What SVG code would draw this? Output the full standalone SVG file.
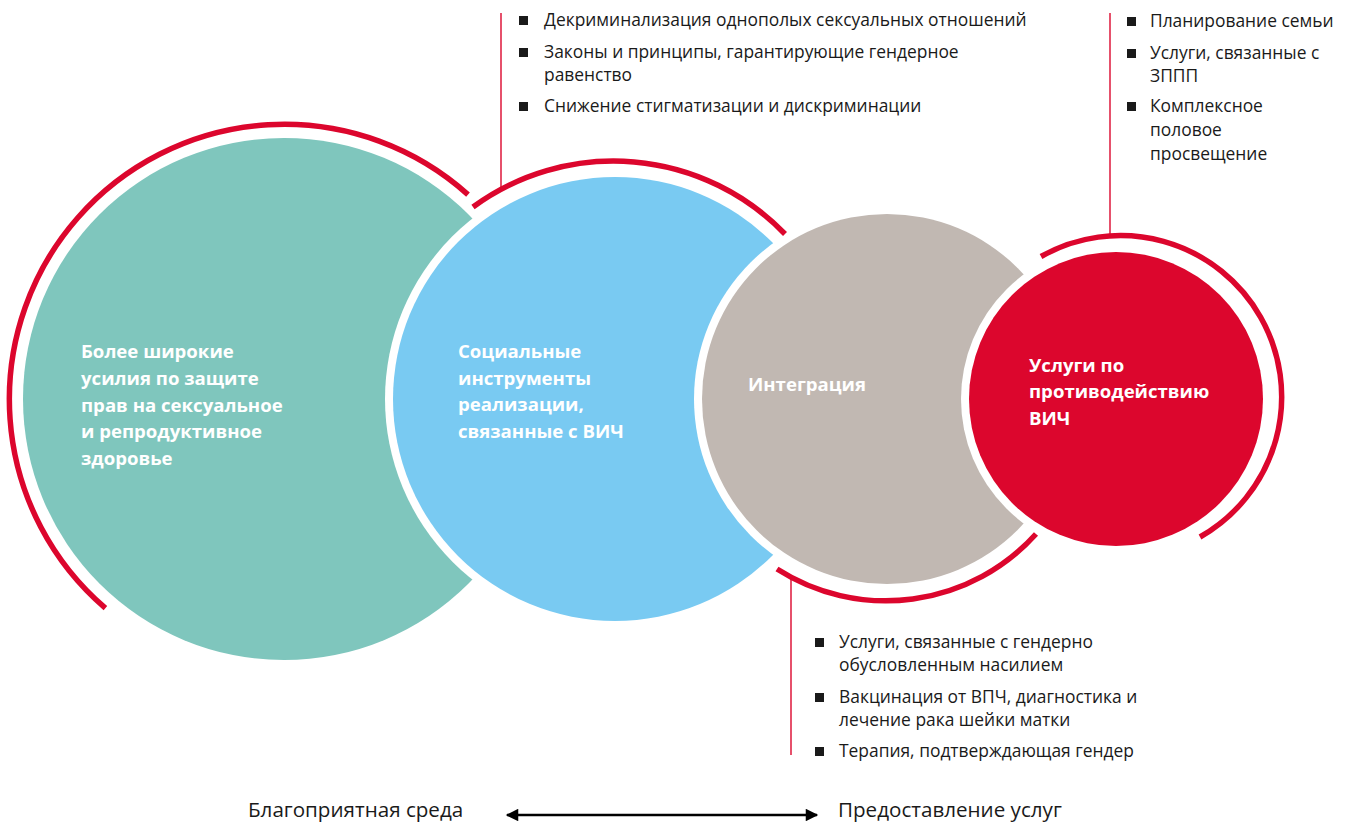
<svg xmlns="http://www.w3.org/2000/svg" width="1349" height="823" viewBox="0 0 1349 823">
  <defs>
    <style>
      .bg { fill: #ffffff; }
      .ring { fill: #ffffff; }
      .arc { fill: none; stroke: #dc062d; stroke-width: 5.5; }
      .lead { stroke: #dc062d; stroke-width: 1.4; }
      .node-label { font-family: "Open Sans", "Noto Sans", "Liberation Sans", sans-serif; font-weight: 700; font-size: 18.6px; fill: #ffffff; }
      .item { font-family: "Open Sans", "Noto Sans", "Liberation Sans", sans-serif; font-size: 17.4px; fill: #1a1a1a; }
      .bullet { fill: #1a1a1a; }
      .axis-label { font-family: "Open Sans", "Noto Sans", "Liberation Sans", sans-serif; font-size: 20.6px; fill: #1a1a1a; }
      .axis { stroke: #000000; stroke-width: 2.5; }
    </style>
    <marker id="head" viewBox="0 0 10 10" refX="9" refY="5" markerWidth="5.8" markerHeight="5" orient="auto-start-reverse" markerUnits="strokeWidth">
      <path d="M0,0 L10,5 L0,10 Z" fill="#000000"/>
    </marker>
  </defs>

  <rect class="bg" x="0" y="0" width="1349" height="823"/>

  <!-- Enabling environment: broader SRHR efforts -->
  <g id="node-srhr">
    <circle cx="284" cy="399" r="261" fill="#7fc6bd"/>
    <text class="node-label" x="81" y="358">Более широкие</text>
    <text class="node-label" x="81" y="385">усилия по защите</text>
    <text class="node-label" x="81" y="412">прав на сексуальное</text>
    <text class="node-label" x="81" y="438">и репродуктивное</text>
    <text class="node-label" x="81" y="465">здоровье</text>
  </g>

  <!-- Social enablers -->
  <g id="node-social">
    <circle class="ring" cx="615" cy="399" r="230"/>
    <circle cx="615" cy="399" r="222" fill="#79caf2"/>
    <text class="node-label" x="458" y="358">Социальные</text>
    <text class="node-label" x="458" y="385">инструменты</text>
    <text class="node-label" x="458" y="411">реализации,</text>
    <text class="node-label" x="458" y="438">связанные с ВИЧ</text>
  </g>

  <!-- Integration -->
  <g id="node-integration">
    <circle class="ring" cx="887" cy="399" r="193"/>
    <circle cx="887" cy="399" r="185" fill="#c1b8b2"/>
    <text class="node-label" x="748" y="391">Интеграция</text>
  </g>

  <!-- HIV services -->
  <g id="node-hiv">
    <circle class="ring" cx="1116" cy="399" r="155"/>
    <circle cx="1116" cy="399" r="147" fill="#dc062d"/>
    <text class="node-label" x="1029" y="372">Услуги по</text>
    <text class="node-label" x="1029" y="398">противодействию</text>
    <text class="node-label" x="1029" y="425">ВИЧ</text>
  </g>

  <!-- Bracketing arcs and leader lines -->
  <g id="connectors">
    <path class="arc" d="M468,194.6 A275,275 0 1 0 105.4,608.1"/>
    <path class="arc" d="M473,207 A238,238 0 0 1 785,234"/>
    <path class="arc" d="M1036,534 A202,202 0 0 1 777,569"/>
    <path class="arc" d="M1041,256.5 A161,161 0 0 1 1200,537"/>
    <line class="lead" x1="501" y1="13" x2="501" y2="189"/>
    <line class="lead" x1="1110" y1="13" x2="1110" y2="238"/>
    <line class="lead" x1="791" y1="577" x2="791" y2="755"/>
    <line class="axis" x1="507" y1="815" x2="817" y2="815" marker-start="url(#head)" marker-end="url(#head)"/>
  </g>

  <!-- Social enabler items -->
  <g id="list-social">
    <rect class="bullet" x="519" y="16" width="9" height="9"/>
    <text class="item" x="544" y="26">Декриминализация однополых сексуальных отношений</text>
    <rect class="bullet" x="519" y="48" width="9" height="9"/>
    <text class="item" x="544" y="58">Законы и принципы, гарантирующие гендерное</text>
    <text class="item" x="544" y="81">равенство</text>
    <rect class="bullet" x="519" y="102" width="9" height="9"/>
    <text class="item" x="544" y="112">Снижение стигматизации и дискриминации</text>
  </g>

  <!-- HIV service items -->
  <g id="list-hiv">
    <rect class="bullet" x="1127" y="17" width="9" height="9"/>
    <text class="item" x="1150" y="27">Планирование семьи</text>
    <rect class="bullet" x="1127" y="49" width="9" height="9"/>
    <text class="item" x="1150" y="59">Услуги, связанные с</text>
    <text class="item" x="1150" y="82">ЗППП</text>
    <rect class="bullet" x="1127" y="102" width="9" height="9"/>
    <text class="item" x="1150" y="112">Комплексное</text>
    <text class="item" x="1150" y="136">половое</text>
    <text class="item" x="1150" y="160">просвещение</text>
  </g>

  <!-- Integration items -->
  <g id="list-integration">
    <rect class="bullet" x="815" y="638" width="9" height="9"/>
    <text class="item" x="839" y="648">Услуги, связанные с гендерно</text>
    <text class="item" x="839" y="671">обусловленным насилием</text>
    <rect class="bullet" x="815" y="693" width="9" height="9"/>
    <text class="item" x="839" y="703">Вакцинация от ВПЧ, диагностика и</text>
    <text class="item" x="839" y="726">лечение рака шейки матки</text>
    <rect class="bullet" x="815" y="747" width="9" height="9"/>
    <text class="item" x="839" y="757">Терапия, подтверждающая гендер</text>
  </g>

  <!-- Axis labels -->
  <g id="axis-labels">
    <text class="axis-label" x="248" y="817">Благоприятная среда</text>
    <text class="axis-label" x="838" y="817">Предоставление услуг</text>
  </g>
</svg>
